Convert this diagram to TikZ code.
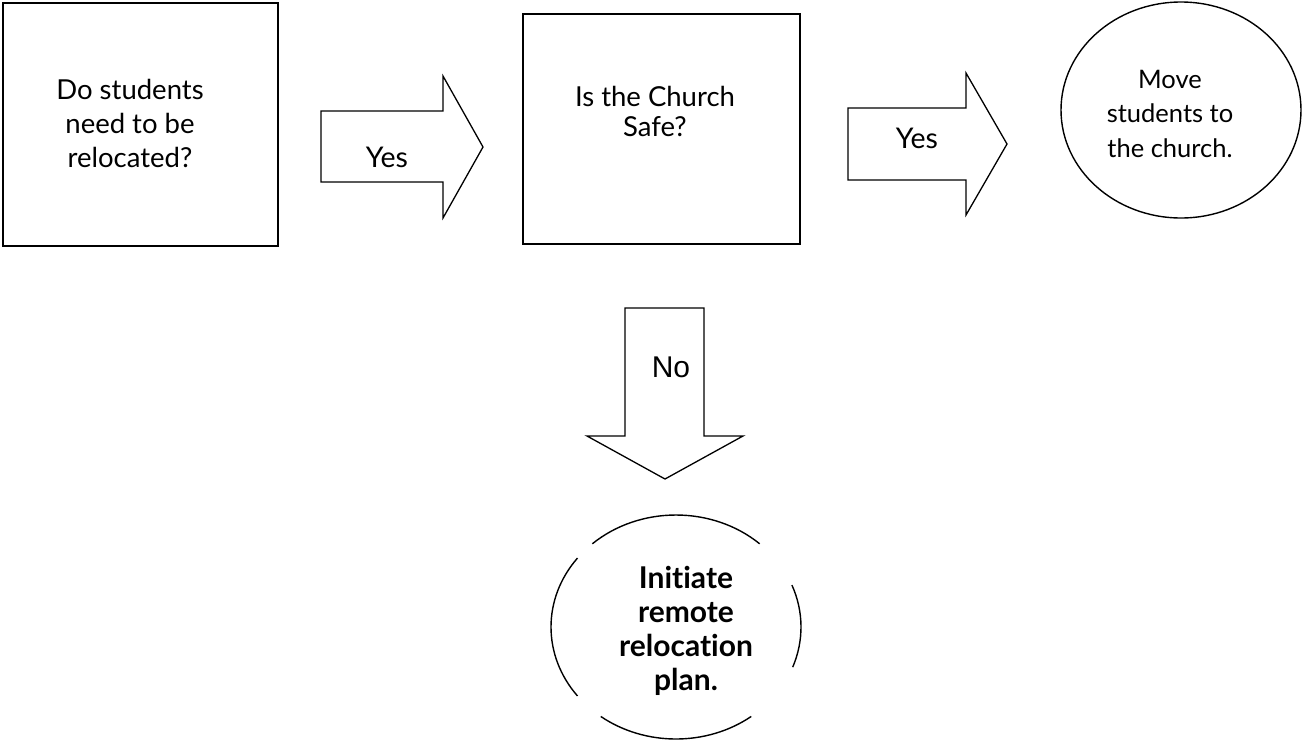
\documentclass[tikz,border=0pt]{standalone}
\usepackage{fontspec}
\usetikzlibrary{shapes.geometric}
\setmainfont{Lato}[RawFeature={-liga;-dlig}]
\newfontfamily\arialf{Liberation Sans}
\tikzset{
  shapeline/.style={draw=black, line width=1.4pt, line join=miter},
  blockarrow/.style={draw=black, line width=1.3pt, fill=white},
  boxtext/.style={align=center, inner sep=0pt},
}
\begin{document}
\begin{tikzpicture}[x=1pt,y=-1pt]
\useasboundingbox (0,0) rectangle (1302,740);
% boxes
\node[shapeline, rectangle, minimum width=275pt, minimum height=243pt, inner sep=0pt] (box1) at (140.5,124.5) {};
\node[shapeline, rectangle, minimum width=277pt, minimum height=230pt, inner sep=0pt] (box2) at (661.5,129) {};
\node[shapeline, ellipse, minimum width=240pt, minimum height=216pt, inner sep=0pt] (ell1) at (1181,110) {};
\coordinate (ell2) at (676,627);
% texts
\node[boxtext, font=\fontsize{27.5}{34}\selectfont] (t1) at (130,123) {Do students\\need to be\\relocated?};
\node[boxtext, font=\fontsize{27.5}{30}\selectfont] (t2) at (655,111) {Is the Church\\Safe?};
\node[boxtext, font=\fontsize{25.5}{34.5}\selectfont] (t3) at (1170,113.5) {Move\\students to\\the church.};
\node[boxtext, font=\bfseries\fontsize{30}{34}\selectfont] (t4) at (686,631) {Initiate\\remote\\relocation\\plan.};
% block arrows
\draw[blockarrow] (321,111) -- (443,111) -- (443,76) -- (483,147) -- (443,218) -- (443,182) -- (321,182) -- cycle;
\draw[blockarrow] (848,108) -- (966,108) -- (966,73) -- (1007,144) -- (966,215) -- (966,180) -- (848,180) -- cycle;
\draw[blockarrow] (625,308) -- (704,308) -- (704,436) -- (743,436) -- (665,479) -- (587,436) -- (625,436) -- cycle;
\node[anchor=base, inner sep=0pt, font=\fontsize{28.5}{30}\selectfont] (y1) at (387,167) {Yes};
\node[anchor=base, inner sep=0pt, font=\fontsize{28.5}{30}\selectfont] (y2) at (917,148) {Yes};
\node[anchor=base, inner sep=0pt, font=\arialf\fontsize{30}{30}\selectfont] (no) at (671,377) {No};
% broken ellipse
\draw[shapeline] (ell2) ++(-132:125 and 112) arc[start angle=-132, end angle=-48, x radius=125, y radius=112];
\draw[shapeline] (ell2) ++(-218:125 and 112) arc[start angle=-218, end angle=-142, x radius=125, y radius=112];
\draw[shapeline] (ell2) ++(-307:125 and 112) arc[start angle=-307, end angle=-233, x radius=125, y radius=112];
\draw[shapeline] (ell2) ++(-22:125 and 112) arc[start angle=-22, end angle=21, x radius=125, y radius=112];
\end{tikzpicture}
\end{document}
